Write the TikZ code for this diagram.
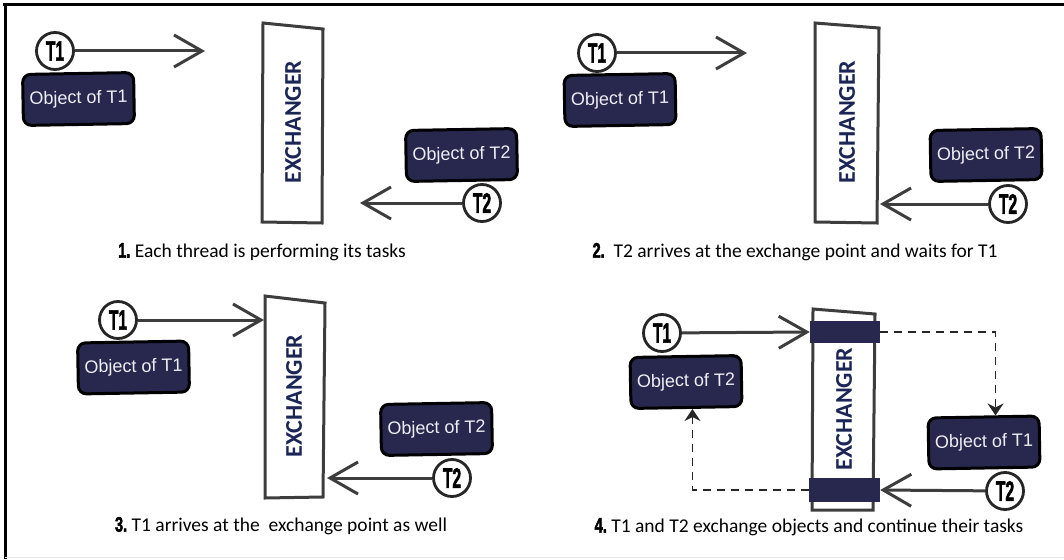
\documentclass[tikz,border=0pt]{standalone}
\usepackage{fontspec}
\usepackage{graphicx}
\setmainfont{Carlito}
\newfontfamily\arialfont{Liberation Sans}
\newfontfamily\heavyfont{Liberation Sans}[BoldFeatures={FakeBold=2.5}]
\usetikzlibrary{arrows.meta}
\definecolor{Navy}{HTML}{28284F}
\definecolor{ExInk}{HTML}{1C2656}
\definecolor{Shaft}{HTML}{3D3D3D}
\definecolor{Ring}{HTML}{262626}
\definecolor{Pale}{HTML}{EEEEF4}
\newcommand{\thr}[1]{\scalebox{0.56}[1]{\heavyfont\bfseries #1}}
\newcommand{\stepno}[1]{{\fontsize{21}{21}\selectfont\scalebox{0.7}[1]{\heavyfont\bfseries #1}}}
\tikzset{
  thread/.style={
    circle, draw=Ring, line width=2.8pt, fill=white,
    minimum size=37pt, inner sep=0pt, font=\fontsize{28}{28}\selectfont
  },
  objbox/.style={
    rounded corners=8pt, draw=black, line width=3pt, fill=Navy, text=Pale,
    minimum width=111pt, minimum height=51pt, inner sep=0pt,
    font=\arialfont\fontsize{18}{20}\selectfont
  },
  exch/.style={draw=Shaft, line width=3pt, fill=white},
  exlabel/.style={rotate=90, text=ExInk, font=\fontsize{24}{24}\selectfont\bfseries},
  bar/.style={fill=Navy, inner sep=0pt},
  flow/.style={-{Straight Barb[length=28pt,width=32pt]}, line width=3pt, draw=Shaft},
  swap/.style={-{Stealth[length=12pt,width=16pt]}, dash pattern=on 8pt off 6pt, line width=1.4pt, draw=black!85},
  caption/.style={font=\fontsize{19.5}{22}\selectfont}
}

\begin{document}
\begin{tikzpicture}[x=1pt,y=-1pt]
  \useasboundingbox (0,0) rectangle (1064,559);
  % frame
  \draw[line width=3pt] (3,4.5) -- (1064,4.5);
  \draw[line width=3pt] (5,3) -- (5,559);
  \draw[black!8, line width=1pt] (5,557) -- (1064,557);

  % 1. each thread works
  \draw[exch] (263,23) -- (323,29) -- (322,223) -- (262,222) -- cycle;
  \node[exlabel] (exa) at (293,122) {EXCHANGER};
  \node[objbox, rotate=1] (obj1a) at (78.5,99) {Object of T1};
  \node[objbox, rotate=1] (obj2a) at (461.5,155) {Object of T2};
  \node[thread] (t1a) at (55,51) {\thr{T1}};
  \node[thread] (t2a) at (482,203) {\thr{T2}};
  \coordinate (h1a) at (205,51);
  \coordinate (h2a) at (360,203);
  \draw[flow] (t1a) -- (h1a);
  \draw[flow] (t2a) -- (h2a);
  \node[caption] (cap1) at (262,252) {\stepno{1.}\ Each thread is performing its tasks};

  % 2. T2 waits
  \draw[exch] (815,23) -- (879,28) -- (877,223) -- (815,222) -- cycle;
  \node[exlabel] (exb) at (847,122) {EXCHANGER};
  \node[objbox, rotate=1] (obj1b) at (620,100) {Object of T1};
  \node[objbox, rotate=1] (obj2b) at (986,155) {Object of T2};
  \node[thread] (t1b) at (597,53) {\thr{T1}};
  \node[thread] (t2b) at (1008,204) {\thr{T2}};
  \coordinate (h1b) at (747,53);
  \coordinate (h2b) at (880,204);
  \draw[flow] (t1b) -- (h1b);
  \draw[flow] (t2b) -- (h2b);
  \node[caption] (cap2) at (795,252) {\stepno{2.}\ \ T2 arrives at the exchange point and waits for T1};

  % 3. T1 arrives too
  \draw[exch] (265,296) -- (325,303) -- (323,497) -- (265,498) -- cycle;
  \node[exlabel] (exc) at (294,396) {EXCHANGER};
  \node[objbox, rotate=1] (obj1c) at (133.5,367.5) {Object of T1};
  \node[objbox, rotate=1] (obj2c) at (436.5,429) {Object of T2};
  \node[thread] (t1c) at (118,320) {\thr{T1}};
  \node[thread] (t2c) at (452,478) {\thr{T2}};
  \coordinate (h1c) at (264,320);
  \coordinate (h2c) at (327,478);
  \draw[flow] (t1c) -- (h1c);
  \draw[flow] (t2c) -- (h2c);
  \node[caption] (cap3) at (281,526) {\stepno{3.}\ T1 arrives at the \ exchange point as well};

  % 4. swap
  \draw[exch] (813,309) -- (875,314) -- (873,510) -- (812,510) -- cycle;
  \node[exlabel] (exd) at (844,409) {EXCHANGER};
  \node[bar, minimum width=70pt, minimum height=22pt] (bartop) at (845,332) {};
  \node[bar, minimum width=71pt, minimum height=24pt] (barbot) at (844.5,490) {};
  \node[objbox, rotate=1] (obj2d) at (686,382) {Object of T2};
  \node[objbox, rotate=1] (obj1d) at (984,442.5) {Object of T1};
  \node[thread] (t1d) at (662,333) {\thr{T1}};
  \node[thread] (t2d) at (1005,491) {\thr{T2}};
  \draw[flow] (t1d) -- (bartop.west);
  \draw[flow] (t2d) -- (barbot.east);
  \draw[swap] (bartop.east) -| ([xshift=12pt]obj1d.north);
  \draw[swap] (barbot.west) -| ([xshift=6pt]obj2d.south);
  \node[caption] (cap4) at (809,527) {\stepno{4.}\ T1 and T2 exchange objects and continue their tasks};
\end{tikzpicture}
\end{document}
